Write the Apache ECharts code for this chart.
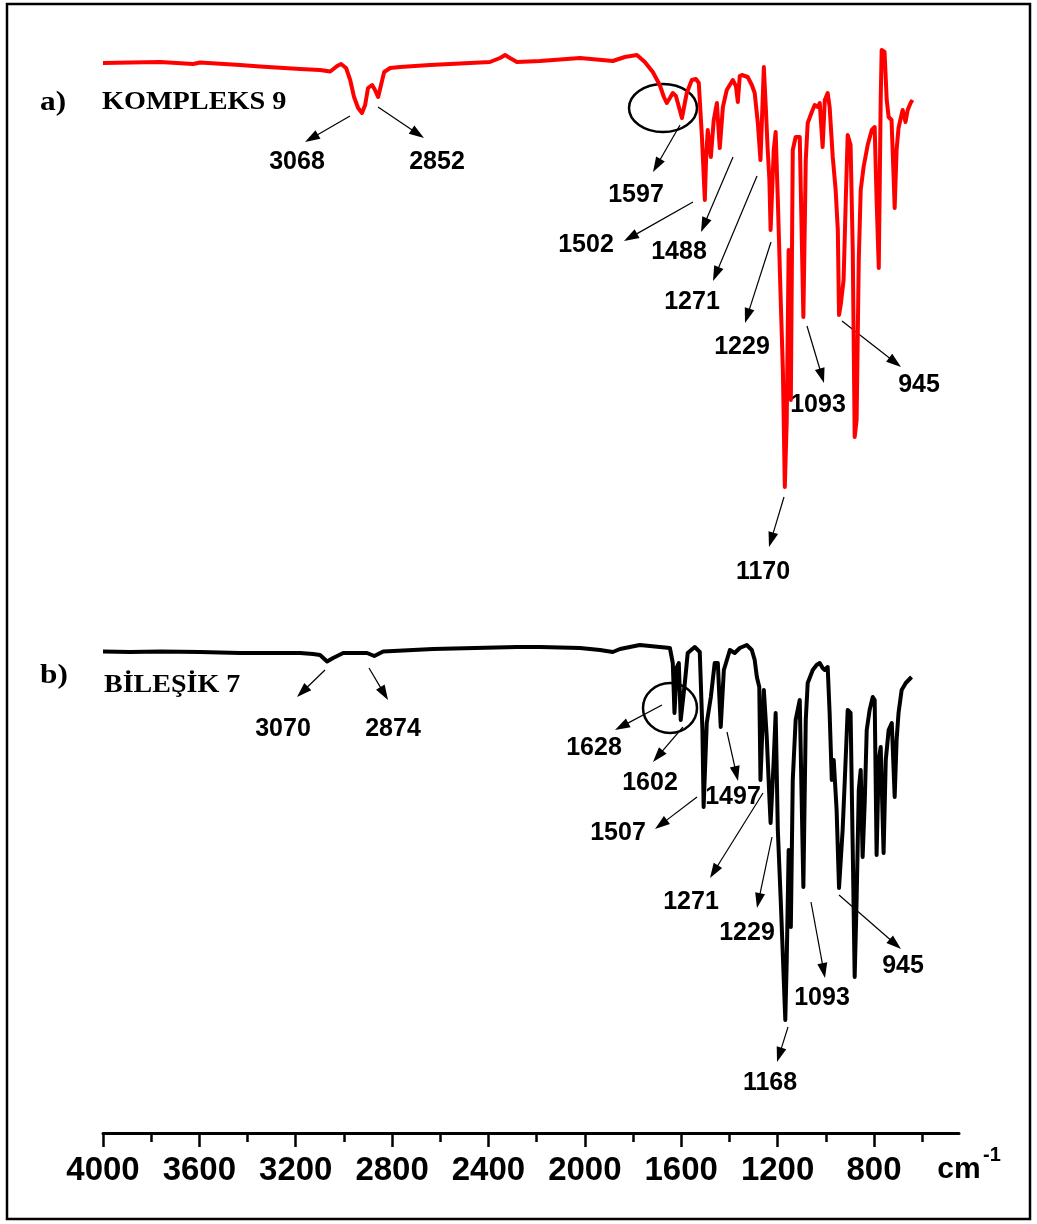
<!DOCTYPE html>
<html>
<head>
<meta charset="utf-8">
<script src="https://cdn.jsdelivr.net/npm/echarts@6/dist/echarts.min.js"></script>
<style>
  html, body { margin: 0; padding: 0; background: #fff; }
  #chart { width: 1037px; height: 1224px; }
</style>
</head>
<body>
<div id="chart"></div>
<script>
// Wavenumber axis (cm-1), drawn high to low
const majorTicks = [4000, 3600, 3200, 2800, 2400, 2000, 1600, 1200, 800];
const minorTicks = [3800, 3400, 3000, 2600, 2200, 1800, 1400, 1000, 600];

// FT-IR spectrum a) KOMPLEKS 9 : [wavenumber, transmittance %]
const kompleks9 = [
  [4000,95.4],[3887,95.5],[3762,95.6],[3626,95.2],[3597,95.5],[3431,95.0],[3348,94.7],[3182,94.2],
  [3099,94.0],[3057,93.7],[3028,94.8],[3012,95.2],[2991,94.4],[2974,92.0],[2958,88.6],[2941,86.4],
  [2925,85.4],[2912,87.0],[2900,90.4],[2883,91.0],[2871,90.0],[2858,88.6],[2846,91.0],[2833,93.6],
  [2808,94.4],[2767,94.6],[2643,95.0],[2477,95.4],[2394,95.6],[2352,96.4],[2331,97.0],[2311,96.4],
  [2282,95.6],[2186,95.8],[2020,96.4],[1884,95.8],[1834,96.6],[1784,97.0],[1751,95.6],[1718,93.6],
  [1689,91.0],[1672,88.6],[1660,87.4],[1647,88.4],[1635,89.4],[1622,88.8],[1614,88.4],[1597,84.4],
  [1585,87.4],[1577,89.4],[1556,92.0],[1539,92.2],[1527,91.4],[1514,80.6],[1502,68.0],[1497,76.0],
  [1490,82.0],[1477,76.6],[1465,84.0],[1452,87.4],[1440,78.4],[1427,86.6],[1411,90.0],[1386,92.0],
  [1373,90.8],[1365,87.6],[1357,92.8],[1348,93.0],[1324,92.6],[1307,91.0],[1295,89.4],[1282,83.4],
  [1271,76.0],[1265,84.0],[1257,94.6],[1249,86.6],[1241,78.0],[1234,72.0],[1229,62.0],[1216,78.0],
  [1208,81.6],[1199,68.0],[1187,48.0],[1178,34.0],[1170,10.6],[1162,24.0],[1154,58.0],[1145,28.0],
  [1137,78.0],[1125,80.6],[1108,80.6],[1093,44.6],[1083,76.0],[1075,83.4],[1058,85.6],[1046,87.0],
  [1033,86.6],[1025,87.4],[1013,78.6],[1004,88.0],[992,89.4],[984,86.6],[971,76.6],[959,70.0],
  [950,62.0],[945,45.0],[938,47.0],[926,52.0],[917,68.0],[909,81.0],[897,79.0],[888,58.0],
  [880,20.6],[872,24.0],[863,56.0],[855,70.0],[843,74.6],[826,79.0],[809,82.0],[797,82.6],
  [789,68.0],[780,54.4],[772,88.0],[768,98.0],[756,97.6],[747,88.0],[739,84.6],[727,84.0],
  [718,72.0],[714,66.4],[706,78.0],[698,82.4],[681,86.0],[669,83.6],[660,86.0],[648,87.4],[640,88.0]
];

// FT-IR spectrum b) BİLEŞİK 7 : [wavenumber, transmittance %]
const bilesik7 = [
  [4000,96.3],[3887,96.2],[3762,96.3],[3597,96.2],[3431,96.0],[3182,96.0],[3128,95.8],[3099,95.6],
  [3070,94.3],[3045,95.0],[3003,96.0],[2904,96.0],[2874,95.4],[2837,96.3],[2630,96.8],[2282,97.2],
  [2186,97.2],[2020,97.0],[1937,96.6],[1884,96.2],[1854,96.8],[1772,97.6],[1689,97.2],[1647,97.0],
  [1635,94.0],[1628,84.0],[1618,93.2],[1610,94.0],[1602,82.6],[1585,90.0],[1573,96.0],[1544,97.2],
  [1523,96.2],[1512,80.6],[1507,65.2],[1494,82.0],[1477,87.2],[1461,94.0],[1448,94.0],[1436,81.2],
  [1423,92.6],[1398,96.6],[1378,96.0],[1357,97.0],[1328,97.6],[1307,96.6],[1295,94.6],[1286,91.2],
  [1276,89.2],[1271,70.6],[1257,88.6],[1245,79.2],[1233,66.0],[1229,62.0],[1216,74.6],[1208,84.0],
  [1199,60.6],[1187,46.6],[1179,36.6],[1168,22.6],[1162,34.6],[1154,56.6],[1145,41.2],[1137,70.6],
  [1125,82.6],[1108,86.6],[1093,49.2],[1083,82.6],[1075,90.0],[1054,92.6],[1038,93.6],[1025,94.0],
  [1013,93.0],[1004,92.6],[992,93.2],[984,84.0],[975,70.6],[967,74.6],[955,64.6],[945,49.0],
  [930,60.6],[921,70.6],[909,84.6],[897,84.0],[888,56.6],[880,31.2],[872,46.6],[863,68.6],
  [855,72.6],[847,55.2],[838,66.6],[830,80.6],[818,84.6],[805,87.2],[797,86.6],[789,55.6],
  [780,74.6],[772,77.2],[760,56.0],[751,74.6],[739,80.6],[726,82.0],[714,67.2],[706,78.6],
  [698,84.0],[685,88.6],[668,90.0],[656,90.6],[644,91.2]
];

// Band assignments written on each spectrum
const bandsA = ['3068', '2852', '1597', '1502', '1488', '1271', '1229', '1093', '945', '1170'];
const bandsB = ['3070', '2874', '1628', '1602', '1507', '1497', '1271', '1229', '1093', '945', '1168'];

// Placement of the band callouts: label centre and arrow (from -> to), in page pixels
const calloutLayoutA = [
  { lx: 297, ly: 162, a: [350, 116, 305, 142] },
  { lx: 437, ly: 162, a: [378, 107, 424, 138] },
  { lx: 636, ly: 195, a: [680, 125, 653, 172] },
  { lx: 586, ly: 245, a: [693, 202, 624, 241] },
  { lx: 679, ly: 252, a: [733, 157, 701, 232] },
  { lx: 692, ly: 302, a: [757, 176, 713, 281] },
  { lx: 742, ly: 347, a: [771, 242, 745, 323] },
  { lx: 818, ly: 405, a: [807, 326, 824, 383] },
  { lx: 919, ly: 385, a: [842, 321, 901, 367] },
  { lx: 763, ly: 572, a: [784, 497, 769, 547] }
];
const calloutLayoutB = [
  { lx: 283, ly: 729, a: [325, 670, 297, 697] },
  { lx: 393, ly: 729, a: [369, 668, 388, 700] },
  { lx: 594, ly: 748, a: [662, 705, 615, 730] },
  { lx: 650, ly: 783, a: [683, 727, 653, 762] },
  { lx: 618, ly: 833, a: [697, 797, 655, 829] },
  { lx: 733, ly: 797, a: [727, 732, 738, 781] },
  { lx: 691, ly: 902, a: [763, 793, 710, 878] },
  { lx: 747, ly: 933, a: [772, 837, 757, 908] },
  { lx: 822, ly: 998, a: [811, 902, 825, 978] },
  { lx: 903, ly: 966, a: [839, 895, 901, 949] },
  { lx: 770, ly: 1083, a: [788, 1027, 777, 1062] }
];

const SANS = '"Liberation Sans", Arial, sans-serif';
const SERIF = '"Liberation Serif", "Times New Roman", serif';

function arrow(x1, y1, x2, y2) {
  const dx = x2 - x1, dy = y2 - y1, L = Math.hypot(dx, dy);
  const ux = dx / L, uy = dy / L, hl = 15, hw = 5;
  const bx = x2 - ux * hl, by = y2 - uy * hl;
  return [
    { type: 'line', silent: true, shape: { x1, y1, x2: bx + ux * 2, y2: by + uy * 2 },
      style: { stroke: '#000', lineWidth: 1.2 } },
    { type: 'polygon', silent: true,
      shape: { points: [[x2, y2], [bx - uy * hw, by + ux * hw], [bx + uy * hw, by - ux * hw]] },
      style: { fill: '#000' } }
  ];
}

function label(text, x, y, font, opts) {
  return Object.assign({
    type: 'text', x, y, silent: true,
    style: { text, font, fill: '#000', align: 'center', verticalAlign: 'middle',
             textAlign: 'center', textVerticalAlign: 'middle' }
  }, opts || {});
}

function callouts(bands, layout) {
  const out = [];
  bands.forEach((t, i) => {
    const c = layout[i];
    out.push(...arrow(c.a[0], c.a[1], c.a[2], c.a[3]));
    out.push(label(t, c.lx, c.ly, 'bold 25px ' + SANS));
  });
  return out;
}

const graphics = [
  // outer frame
  { type: 'rect', silent: true, shape: { x: 7, y: 4, width: 1023, height: 1215 },
    style: { fill: 'none', stroke: '#000', lineWidth: 2.5 } },
  // panel titles
  { type: 'text', x: 40, y: 103, scaleX: 1.12, silent: true,
    style: { text: 'a)', font: 'bold 28px ' + SERIF, fill: '#000', verticalAlign: 'middle', textVerticalAlign: 'middle' } },
  { type: 'text', x: 102, y: 103, scaleX: 1.13, silent: true,
    style: { text: 'KOMPLEKS 9', font: 'bold 25px ' + SERIF, fill: '#000', verticalAlign: 'middle', textVerticalAlign: 'middle' } },
  { type: 'text', x: 40, y: 676, scaleX: 1.12, silent: true,
    style: { text: 'b)', font: 'bold 28px ' + SERIF, fill: '#000', verticalAlign: 'middle', textVerticalAlign: 'middle' } },
  { type: 'text', x: 104, y: 686, scaleX: 1.12, silent: true,
    style: { text: 'BİLEŞİK 7', font: 'bold 25px ' + SERIF, fill: '#000', verticalAlign: 'middle', textVerticalAlign: 'middle' } },
  // ellipses marking the C=N / C=C region
  { type: 'ellipse', silent: true, shape: { cx: 663, cy: 108, rx: 34, ry: 24 },
    style: { fill: 'none', stroke: '#000', lineWidth: 2.5 } },
  { type: 'ellipse', silent: true, shape: { cx: 670, cy: 708, rx: 27, ry: 25 },
    style: { fill: 'none', stroke: '#000', lineWidth: 2.5 } },
  // unit of the wavenumber axis
  label('cm', 959, 1170, 'bold 30px ' + SANS),
  label('-1', 992, 1155, 'bold 20px ' + SANS),
  ...callouts(bandsA, calloutLayoutA),
  ...callouts(bandsB, calloutLayoutB)
];

const X_MIN = 447, X_MAX = 4000;
const gridSide = { left: 103, right: 78 };

const chart = echarts.init(document.getElementById('chart'), null, { renderer: 'canvas' });
chart.setOption({
  animation: false,
  backgroundColor: '#fff',
  grid: [
    Object.assign({ top: 40, height: 500 }, gridSide),
    Object.assign({ top: 633, height: 500 }, gridSide)
  ],
  xAxis: [
    { type: 'value', gridIndex: 0, min: X_MIN, max: X_MAX, inverse: true, show: false },
    { type: 'value', gridIndex: 1, position: 'bottom', min: X_MIN, max: X_MAX, inverse: true,
      splitLine: { show: false },
      axisLine: { show: true, onZero: false, lineStyle: { color: '#000', width: 3 } },
      axisTick: { show: true, customValues: majorTicks, length: 14, lineStyle: { color: '#000', width: 2.5 } },
      axisLabel: { show: true, customValues: majorTicks, margin: 21, color: '#000',
                   fontFamily: SANS, fontWeight: 'bold', fontSize: 33,
                   formatter: v => String(v) } },
    { type: 'value', gridIndex: 1, position: 'bottom', min: X_MIN, max: X_MAX, inverse: true,
      splitLine: { show: false },
      axisLine: { show: false, onZero: false },
      axisTick: { show: true, customValues: minorTicks, length: 9, lineStyle: { color: '#000', width: 2.5 } },
      axisLabel: { show: false } }
  ],
  yAxis: [
    { type: 'value', gridIndex: 0, min: 0, max: 100, show: false },
    { type: 'value', gridIndex: 1, min: 0, max: 100, show: false }
  ],
  series: [
    { name: 'KOMPLEKS 9', type: 'line', xAxisIndex: 0, yAxisIndex: 0, data: kompleks9,
      showSymbol: false, symbol: 'none', sampling: null, silent: true,
      lineStyle: { color: '#ff0000', width: 4, join: 'round' } },
    { name: 'BİLEŞİK 7', type: 'line', xAxisIndex: 1, yAxisIndex: 1, data: bilesik7,
      showSymbol: false, symbol: 'none', sampling: null, silent: true,
      lineStyle: { color: '#000000', width: 4, join: 'round' } }
  ],
  graphic: { elements: graphics }
});
</script>
</body>
</html>
